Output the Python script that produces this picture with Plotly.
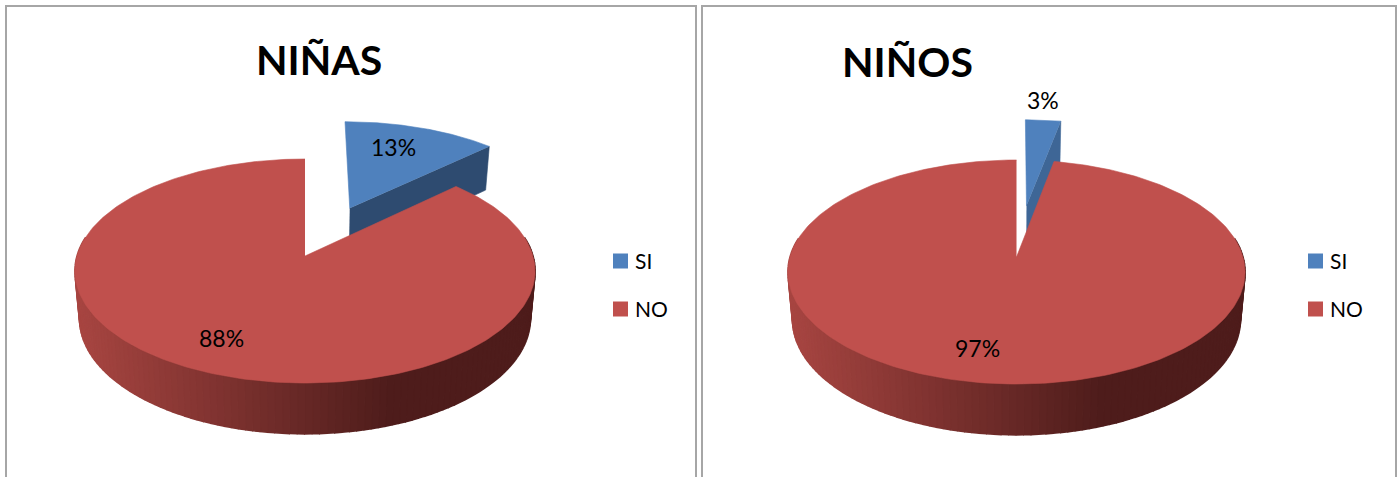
import numpy as np
import plotly.graph_objects as go

# ---- data ----
PANEL_TITLES = ["NIÑAS", "NIÑOS"]
CATEGORIES = ["SI", "NO"]
NINAS_VALUES = [13, 88]
NINOS_VALUES = [3, 97]

# ---- style / layout ----
W, H = 1397, 477
BLUE, RED = "#4F81BD", "#C0504D"
FONT = "Lato"
K = 0.134          # perspective strength
RY = 110           # projected radius of the top face, vertical
FX, FY, DEPTH = 0.98, 1.03, 47  # bottom face relative to top face
EXPLODE = 0.5
STRIPS = 120
SIDE_LEFT = np.array([167, 69, 65])
SIDE_DARK = np.array([78, 28, 27])

panels = [
    dict(cx=305, cy=256, rx=228, si_dx=2.5, values=NINAS_VALUES, title=PANEL_TITLES[0],
         title_xy=(319, 59), face="#2E4B70", legend_x=620.5,
         labels=[(393, 147), (221, 338)]),
    dict(cx=1016.5, cy=257, rx=226.5, si_dx=0, values=NINOS_VALUES, title=PANEL_TITLES[1],
         title_xy=(907, 61), face="#3E6696", legend_x=1315.5,
         labels=[(1042.5, 100), (977, 348)]),
]

fig = go.Figure()


def project(p, X, Y, bottom=False):
    d = 1 + K * np.asarray(Y, dtype=float)
    fx, fy, dy = (FX, FY, DEPTH) if bottom else (1, 1, 0)
    return p["cx"] + fx * p["rx"] * np.asarray(X) / d, p["cy"] + dy - fy * RY * np.asarray(Y) / d


def poly(xs, ys, color, lw=0.6):
    fig.add_trace(go.Scatter(x=list(xs), y=list(ys), mode="lines", fill="toself",
                             fillcolor=color, line=dict(color=color, width=lw),
                             hoverinfo="skip", showlegend=False))


def arc(a0, a1, n=160):
    t = np.radians(np.linspace(a0, a1, n))
    return np.sin(t), np.cos(t)


for p in panels:
    yes, no = p["values"]
    split = 360 * yes / (yes + no)
    mid = np.radians(split / 2)
    ex, ey = EXPLODE * np.sin(mid), EXPLODE * np.cos(mid)

    # exploded SI slice: inner cut face, then top
    s, c = np.sin(np.radians(split)), np.cos(np.radians(split))
    ax, ay = project(p, [ex, ex + s], [ey, ey + c])
    bx, by = project(p, [ex, ex + s], [ey, ey + c], bottom=True)
    poly([ax[0] + p["si_dx"], ax[1] + p["si_dx"], bx[1] + p["si_dx"], bx[0] + p["si_dx"]],
         [ay[0], ay[1], by[1], by[0]], p["face"])
    sx, cy_ = arc(0, split)
    tx, ty = project(p, np.r_[ex, ex + sx], np.r_[ey, ey + cy_])
    poly(tx + p["si_dx"], ty, BLUE)

    # NO slice: shaded rim as strips, then top
    edges = np.linspace(80, 280, STRIPS + 1)
    for a0, a1 in zip(edges[:-1], edges[1:]):
        sx, cy_ = arc(a0, a1, 4)
        x0, y0 = project(p, sx, cy_)
        x1, y1 = project(p, sx, cy_, bottom=True)
        t = np.clip((x0.mean() - (p["cx"] - 226)) / 310, 0, 1)
        col = SIDE_LEFT + (SIDE_DARK - SIDE_LEFT) * t
        poly(np.r_[x0, x1[::-1]], np.r_[y0, y1[::-1]],
             "rgb(%d,%d,%d)" % tuple(col.round().astype(int)), lw=1.6)
    sx, cy_ = arc(split, 360, 300)
    tx, ty = project(p, np.r_[0, sx], np.r_[0, cy_])
    poly(tx, ty, RED)

    # percentage labels
    for v, (lx, ly) in zip(p["values"], p["labels"]):
        fig.add_annotation(x=lx, y=ly, text=f"{v}%", showarrow=False,
                           font=dict(family=FONT, size=23, color="#000000"))
    # title
    fig.add_annotation(x=p["title_xy"][0], y=p["title_xy"][1], text=f"<b>{p['title']}</b>",
                       showarrow=False, font=dict(family=FONT, size=41, color="#000000"))
    # legend
    for name, col, ly in zip(CATEGORIES, [BLUE, RED], [261, 309]):
        fig.add_trace(go.Scatter(x=[p["legend_x"]], y=[ly], mode="markers",
                                 marker=dict(symbol="square", size=15, color=col, line=dict(width=0)),
                                 name=name, hoverinfo="skip", showlegend=False))
        fig.add_annotation(x=p["legend_x"] + 12.5, y=ly - 1, text=name, showarrow=False, xanchor="left",
                           font=dict(family=FONT, size=21, color="#000000"))

# panel frames (open at the bottom, as cropped in the reference)
for x0, x1 in [(6, 696), (702, 1396)]:
    fig.add_shape(type="path", path=f"M {x0} 490 L {x0} 6 L {x1} 6 L {x1} 490",
                  line=dict(color="#A6A6A6", width=2), layer="below")

fig.update_layout(
    width=W, height=H, autosize=False,
    margin=dict(l=0, r=0, t=0, b=0),
    paper_bgcolor="#FFFFFF", plot_bgcolor="#FFFFFF", showlegend=False,
    xaxis=dict(range=[0, W], visible=False, fixedrange=True),
    yaxis=dict(range=[H, 0], visible=False, fixedrange=True),
)
fig.write_html("out.html", config={"displayModeBar": False},
               post_script="document.body.style.margin='0';document.body.style.overflow='hidden';")
